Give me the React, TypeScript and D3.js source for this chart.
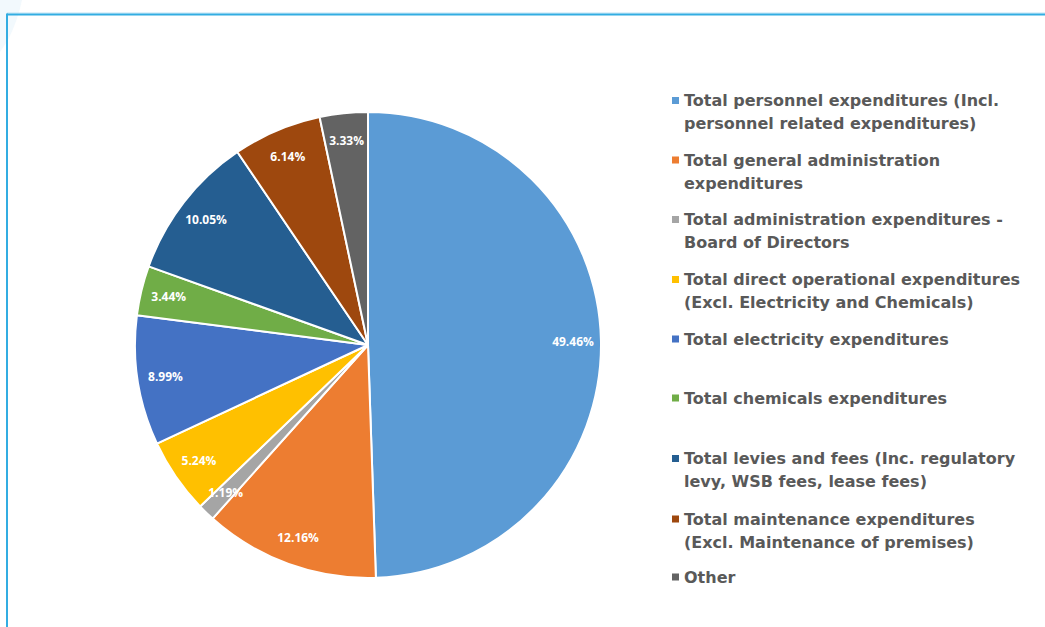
import React from "react";
import * as d3 from "d3";

const categories = [
  "Total personnel expenditures (Incl.|personnel related expenditures)",
  "Total general administration|expenditures",
  "Total administration expenditures -|Board of Directors",
  "Total direct operational expenditures|(Excl. Electricity and Chemicals)",
  "Total electricity expenditures",
  "Total chemicals expenditures",
  "Total levies and fees (Inc. regulatory|levy, WSB fees, lease fees)",
  "Total maintenance expenditures|(Excl. Maintenance of premises)",
  "Other",
];
const values = [49.46, 12.16, 1.19, 5.24, 8.99, 3.44, 10.05, 6.14, 3.33];
const colors = ["#5B9BD5", "#ED7D31", "#A5A5A5", "#FFC000", "#4472C4", "#70AD47", "#255E91", "#9E480E", "#636363"];
const legendY = [100.5, 160, 219.5, 279.5, 339, 398, 458.5, 519, 577];

const W = 1045, H = 627;
const cx = 368, cy = 345, R = 233;

export default function App() {
  const pie = d3.pie<number>().value((d) => d).sort(null);
  const arcs = pie(values);
  const arc = d3.arc<d3.PieArcDatum<number>>().innerRadius(0).outerRadius(R);
  const labelArc = d3.arc<d3.PieArcDatum<number>>().innerRadius(205).outerRadius(205);
  return (
    <svg width={W} height={H} style={{ position: "absolute", left: 0, top: 0 }}>
      <rect width={W} height={H} fill="#fff" />
      <path d="M0,0 L22,0 Q18,20 8,40 L0,52 Z" fill="#f2f9fd" />
      <line x1={7} y1={13} x2={W} y2={13} stroke="#bfe3f5" strokeWidth={1} />
      <line x1={7} y1={14.5} x2={W} y2={14.5} stroke="#33ADE2" strokeWidth={2} />
      <line x1={7} y1={13.5} x2={7} y2={H} stroke="#33ADE2" strokeWidth={2} />
      <g transform={`translate(${cx},${cy})`}>
        {arcs.map((a, i) => (
          <path key={i} d={arc(a) || ""} fill={colors[i]} stroke="#fff" strokeWidth={2} strokeLinejoin="round" />
        ))}
        {arcs.map((a, i) => {
          const [x, y] = labelArc.centroid(a);
          return (
            <text key={i} x={x} y={y} dy="0.35em" textAnchor="middle" fill="#fff"
              style={{ fontFamily: "'Open Sans', Calibri, sans-serif", fontWeight: 700, fontSize: 12 }}>
              {values[i].toFixed(2)}%
            </text>
          );
        })}
      </g>
      <g>
        {categories.map((c, i) => {
          const lines = c.split("|");
          return (
            <g key={i}>
              <rect x={672} y={legendY[i] - 3.5} width={7} height={7} fill={colors[i]} />
              {lines.map((l, j) => (
                <text key={j} x={684} y={legendY[i] + j * 23} dy="0.35em" fill="#595959"
                  style={{ fontFamily: "'DejaVu Sans', sans-serif", fontWeight: 700, fontSize: 16 }}>
                  {l}
                </text>
              ))}
            </g>
          );
        })}
      </g>
    </svg>
  );
}
